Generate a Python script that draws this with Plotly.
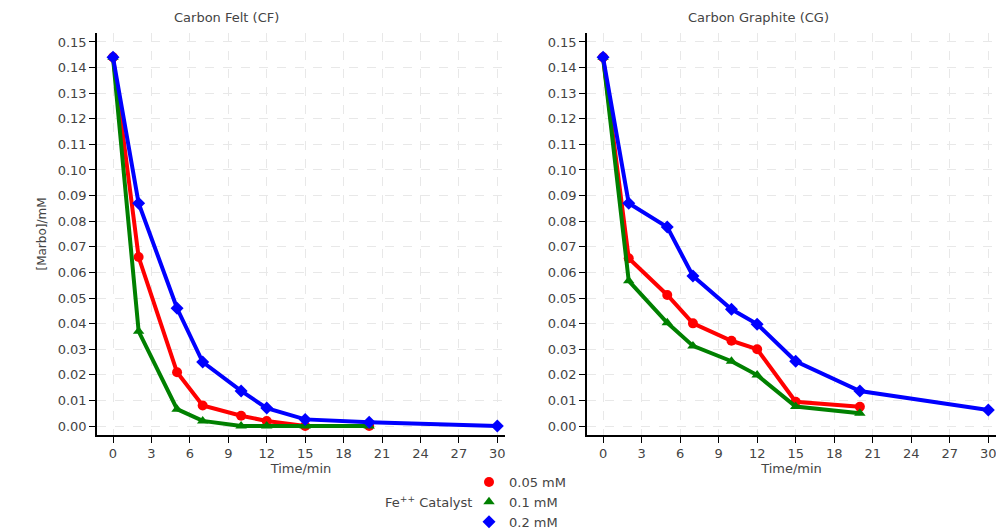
import plotly.graph_objects as go

time_min = [0, 2, 5, 7, 10, 12, 15, 20]
time_min_long = [0, 2, 5, 7, 10, 12, 15, 20, 30]

# Carbon Felt (CF)
cf_005 = [0.144, 0.066, 0.021, 0.008, 0.004, 0.002, 0.0, 0.0]
cf_01 = [0.144, 0.037, 0.0066, 0.002, 0.0, 0.0, 0.0, 0.0]
cf_02 = [0.144, 0.087, 0.046, 0.025, 0.0137, 0.007, 0.0026, 0.0015, 0.0]

# Carbon Graphite (CG)
cg_005 = [0.144, 0.0655, 0.0512, 0.0401, 0.0333, 0.0300, 0.0095, 0.0075]
cg_01 = [0.144, 0.0567, 0.0403, 0.0313, 0.0253, 0.0199, 0.0076, 0.0050]
cg_02 = [0.144, 0.087, 0.0777, 0.0586, 0.0456, 0.0398, 0.0253, 0.0137, 0.0063]

series_names = ["0.05 mM", "0.1 mM", "0.2 mM"]
colors = ["#ff0000", "#008000", "#0000ff"]
symbols = ["circle", "triangle-up", "diamond"]
panel_titles = ["Carbon Felt (CF)", "Carbon Graphite (CG)"]
legend_title = "Fe<sup>++</sup> Catalyst"
x_ticks = list(range(0, 31, 3))
y_ticks = [i / 100 for i in range(0, 16)]

FONT = "DejaVu Sans"
TXT = "#444444"

fig = go.Figure()
panels = [
    ("x", "y", [(time_min, cf_005), (time_min, cf_01), (time_min_long, cf_02)]),
    ("x2", "y2", [(time_min, cg_005), (time_min, cg_01), (time_min_long, cg_02)]),
]
for pi, (xa, ya, data) in enumerate(panels):
    for si, (xs, ys) in enumerate(data):
        fig.add_trace(go.Scatter(
            x=xs, y=ys, mode="lines+markers", name=series_names[si],
            line=dict(color=colors[si], width=4),
            marker=dict(symbol=symbols[si], size=10, color=colors[si]),
            xaxis=xa, yaxis=ya, showlegend=False,
        ))
# legend-only entries (markers only, as in the reference legend)
for si in range(3):
    fig.add_trace(go.Scatter(
        x=[None], y=[None], mode="markers", name=series_names[si],
        marker=dict(symbol=symbols[si], size=10, color=colors[si]),
        showlegend=True,
    ))

axis_common = dict(
    showline=True, linecolor="black", linewidth=1.5,
    ticks="outside", ticklen=6, tickcolor="black", tickwidth=1,
    showgrid=True, gridcolor="#e8e8e8", griddash="dash", gridwidth=1,
    zeroline=False, tickfont=dict(family=FONT, size=13, color=TXT),
    ticklabeloverflow="allow",
)
W, H = 996, 530
L, R, T, B = 97, 0, 33, 95
pw = W - L - R
ph = H - T - B
fig.update_layout(
    width=W, height=H,
    margin=dict(l=L, r=R, t=T, b=B, autoexpand=False),
    plot_bgcolor="white", paper_bgcolor="white",
    font=dict(family=FONT, size=13, color=TXT),
    xaxis=dict(domain=[0, (505 - L) / pw], range=[-1.25, 30.6], tickvals=x_ticks,
               title=dict(text="Time/min", standoff=2, font=dict(family=FONT, size=13, color=TXT)), **axis_common),
    xaxis2=dict(domain=[(587 - L) / pw, 1], range=[-1.25, 30.6], tickvals=x_ticks,
                title=dict(text="Time/min", standoff=2, font=dict(family=FONT, size=13, color=TXT)), **axis_common),
    yaxis=dict(anchor="x", range=[-0.0035, 0.1535], tickvals=y_ticks, tickformat=".2f",
               title=dict(text="[Marbo]/mM", standoff=8, font=dict(family=FONT, size=12, color=TXT)), **axis_common),
    yaxis2=dict(anchor="x2", range=[-0.0035, 0.1535], tickvals=y_ticks, tickformat=".2f", **axis_common),
    legend=dict(
        x=(469 - L) / pw, xanchor="left", y=-(467 - (T + ph)) / ph, yanchor="top",
        font=dict(family=FONT, size=13, color=TXT), tracegroupgap=0,
        bgcolor="rgba(0,0,0,0)",
    ),
)
for cx, title in zip([226, 758], panel_titles):
    fig.add_annotation(text=title, x=(cx - L) / pw, y=1, xref="paper", yref="paper",
                       xanchor="center", yanchor="bottom", yshift=6, showarrow=False,
                       font=dict(family=FONT, size=13, color=TXT))
fig.add_annotation(text=legend_title, x=(474 - L) / pw, y=-(502 - (T + ph)) / ph,
                   xref="paper", yref="paper", xanchor="right", yanchor="middle",
                   showarrow=False, font=dict(family=FONT, size=13, color=TXT))

fig.write_html("out.html", config={"displayModeBar": False},
               post_script="document.body.style.margin='0';document.body.style.overflow='hidden';")
